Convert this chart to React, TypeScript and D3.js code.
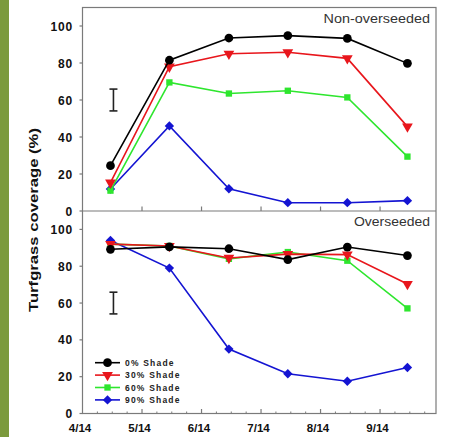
import * as d3 from "d3";
import { useEffect, useRef } from "react";

const W = 449;
const H = 437;

// sampling dates as months after 4/14
const sampleMonths = [0.47, 1.46, 2.46, 3.45, 4.45, 5.46];
const monthLabels = ["4/14", "5/14", "6/14", "7/14", "8/14", "9/14"];
const yTicks = [0, 20, 40, 60, 80, 100];

const seriesNames = ["0% Shade", "30% Shade", "60% Shade", "90% Shade"];
const seriesColors = ["#000000", "#e8161c", "#2ee62e", "#1414d2"];

const nonOverseeded = [
  [24.5, 81.5, 93.5, 94.8, 93.3, 79.8],
  [15.3, 78, 85, 85.8, 82.5, 45.6],
  [11, 69.5, 63.5, 65, 61.4, 29.4],
  [11.9, 46, 12, 4.5, 4.5, 5.6],
];

const overseeded = [
  [89.2, 90.5, 89.5, 83.6, 90.4, 85.8],
  [92, 91, 84.5, 86.6, 86.3, 70.3],
  [92, 91, 84, 87.7, 83, 57.1],
  [94, 79, 35, 21.6, 17.5, 25],
];

// LSD bar: centre and half length
const lsdBar = { at: 0.52, mid: 60, half: 5.9 };

const App = () => {
  const svgRef = useRef(null);

  useEffect(() => {
    const svg = d3.select(svgRef.current);
    svg.selectAll("*").remove();

    const left = 82.5;
    const right = 436;
    const x = d3.scaleLinear().domain([0, 5.94]).range([left, right]);
    const yTop = d3.scaleLinear().domain([0, 110]).range([211, 7.5]);
    const yBot = d3.scaleLinear().domain([0, 110]).range([413.5, 211]);
    const frame = "#7a7a7a";
    const font = "Liberation Sans, Arial, sans-serif";

    // green stripe on the left
    svg.append("rect").attr("x", 0).attr("y", 0).attr("width", 9).attr("height", H).attr("fill", "#7b9a3c");

    // frame
    svg
      .append("rect")
      .attr("x", left)
      .attr("y", yTop(110))
      .attr("width", right - left)
      .attr("height", yBot(0) - yTop(110))
      .attr("fill", "none")
      .attr("stroke", frame)
      .attr("stroke-width", 1.2);
    svg
      .append("line")
      .attr("x1", left)
      .attr("x2", right)
      .attr("y1", yTop(0))
      .attr("y2", yTop(0))
      .attr("stroke", frame)
      .attr("stroke-width", 1.2);

    const symbols = [
      { type: d3.symbolCircle, size: 60, rot: 0 },
      { type: d3.symbolTriangle, size: 50, rot: 180 },
      { type: d3.symbolSquare, size: 40, rot: 0 },
      { type: d3.symbolSquare, size: 44, rot: 45 },
    ];

    const drawPanel = (y, data, label) => {
      const g = svg.append("g");

      // y axis ticks + labels
      yTicks.forEach((t) => {
        g.append("line")
          .attr("x1", left - 3)
          .attr("x2", left)
          .attr("y1", y(t))
          .attr("y2", y(t))
          .attr("stroke", frame)
          .attr("stroke-width", 1.2);
        g.append("text")
          .attr("x", 73)
          .attr("y", y(t) + 4.5)
          .attr("text-anchor", "end")
          .attr("font-family", font)
          .attr("font-weight", "bold")
          .attr("font-size", 12)
          .attr("letter-spacing", 0.8)
          .attr("fill", "#111")
          .text(t);
      });

      // x ticks pointing inward
      const base = y(0);
      d3.range(1, 6).forEach((m) => {
        g.append("line")
          .attr("x1", x(m))
          .attr("x2", x(m))
          .attr("y1", base)
          .attr("y2", base - 4.5)
          .attr("stroke", frame)
          .attr("stroke-width", 1.2);
      });

      // LSD bar
      const bx = x(lsdBar.at);
      const y1 = y(lsdBar.mid + lsdBar.half);
      const y2 = y(lsdBar.mid - lsdBar.half);
      const lb = g.append("g").attr("stroke", "#222").attr("stroke-width", 1.6);
      lb.append("line").attr("x1", bx).attr("x2", bx).attr("y1", y1).attr("y2", y2);
      lb.append("line").attr("x1", bx - 4).attr("x2", bx + 4).attr("y1", y1).attr("y2", y1);
      lb.append("line").attr("x1", bx - 4).attr("x2", bx + 4).attr("y1", y2).attr("y2", y2);

      const line = d3
        .line()
        .x((d, i) => x(sampleMonths[i]))
        .y((d) => y(d));

      [3, 2, 1, 0].forEach((s) => {
        const color = seriesColors[s];
        g.append("path")
          .attr("d", line(data[s]))
          .attr("fill", "none")
          .attr("stroke", color)
          .attr("stroke-width", 1.6);
        const sym = symbols[s];
        g.selectAll(`.pt${s}`)
          .data(data[s])
          .join("path")
          .attr("d", d3.symbol().type(sym.type).size(sym.size)())
          .attr("transform", (d, i) => `translate(${x(sampleMonths[i])},${y(d)}) rotate(${sym.rot})`)
          .attr("fill", color);
      });

      g.append("text")
        .attr("x", 430)
        .attr("y", y(110) + 15)
        .attr("text-anchor", "end")
        .attr("font-family", font)
        .attr("font-size", 12.5)
        .attr("fill", "#333")
        .attr("textLength", label.length * 7.6)
        .attr("lengthAdjust", "spacingAndGlyphs")
        .text(label);
    };

    drawPanel(yTop, nonOverseeded, "Non-overseeded");
    drawPanel(yBot, overseeded, "Overseeded");

    // minor ticks on bottom axis
    const base = yBot(0);
    d3.range(0.25, 5.94, 0.25).forEach((m) => {
      if (Math.abs(m - Math.round(m)) < 0.01) return;
      svg
        .append("line")
        .attr("x1", x(m))
        .attr("x2", x(m))
        .attr("y1", base)
        .attr("y2", base - 2)
        .attr("stroke", frame)
        .attr("stroke-width", 1);
    });

    // x labels
    monthLabels.forEach((lab, i) => {
      svg
        .append("text")
        .attr("x", x(i) - 2.5)
        .attr("y", 432)
        .attr("text-anchor", "middle")
        .attr("font-family", font)
        .attr("font-weight", "bold")
        .attr("font-size", 11.5)
        .attr("fill", "#111")
        .text(lab);
    });

    // y title
    svg
      .append("text")
      .attr("transform", `translate(38, 220) rotate(-90)`)
      .attr("text-anchor", "middle")
      .attr("font-family", font)
      .attr("font-weight", "bold")
      .attr("font-size", 12.5)
      .attr("fill", "#111")
      .attr("textLength", 184)
      .attr("lengthAdjust", "spacingAndGlyphs")
      .text("Turfgrass coverage (%)");

    // legend
    const legend = svg.append("g");
    seriesNames.forEach((name, s) => {
      const ly = 362.7 + s * 12.4;
      const sym = symbols[s];
      legend
        .append("line")
        .attr("x1", 95)
        .attr("x2", 120)
        .attr("y1", ly)
        .attr("y2", ly)
        .attr("stroke", seriesColors[s])
        .attr("stroke-width", 1.6);
      legend
        .append("path")
        .attr("d", d3.symbol().type(sym.type).size(sym.size)())
        .attr("transform", `translate(107.5,${ly}) rotate(${sym.rot})`)
        .attr("fill", seriesColors[s]);
      legend
        .append("text")
        .attr("x", 125)
        .attr("y", ly + 3.3)
        .attr("font-family", font)
        .attr("font-weight", "bold")
        .attr("font-size", 8.5)
        .attr("letter-spacing", 1.2)
        .attr("fill", "#222")
        .text(name);
    });
  }, []);

  return (
    <div style={{ position: "absolute", left: 0, top: 0, width: W, height: H, background: "#fff" }}>
      <svg ref={svgRef} width={W} height={H} />
    </div>
  );
};

export default App;
